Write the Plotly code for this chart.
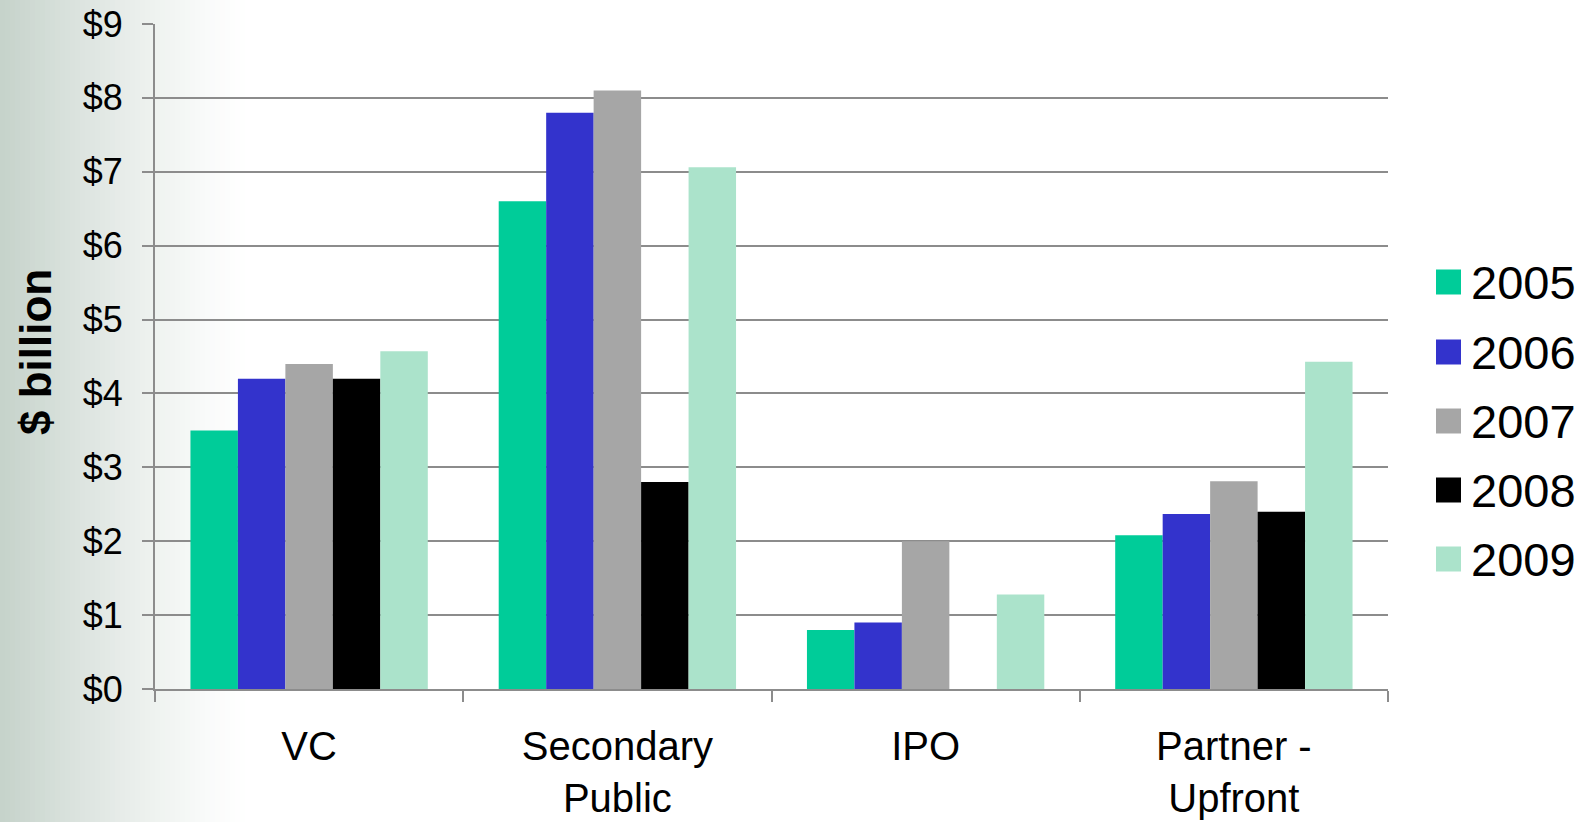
import plotly.graph_objects as go

categories = ["VC", "Secondary<br>Public", "IPO", "Partner -<br>Upfront"]
years = ["2005", "2006", "2007", "2008", "2009"]
v2005 = [3.50, 6.60, 0.80, 2.08]
v2006 = [4.20, 7.80, 0.90, 2.37]
v2007 = [4.40, 8.10, 2.00, 2.81]
v2008 = [4.20, 2.80, 0.00, 2.40]
v2009 = [4.57, 7.06, 1.28, 4.43]
series = [v2005, v2006, v2007, v2008, v2009]
colors = ["#00CC99", "#3333CC", "#A6A6A6", "#000000", "#ABE3CB"]
ytickvals = [0, 1, 2, 3, 4, 5, 6, 7, 8, 9]
yticktext = ["$" + str(v) for v in ytickvals]

FONT = "Liberation Sans, Arial, sans-serif"
W, H = 1589, 822
L, R, T, B = 155, 201, 24, 133
pw = W - L - R
ph = H - T - B

fig = go.Figure()
for yr, vals, c in zip(years, series, colors):
    fig.add_trace(go.Bar(x=categories, y=vals, name=yr, marker=dict(color=c, line=dict(width=0)),
                         showlegend=False))

shapes = []
# left background gradient
n = 50
for i in range(n):
    x0 = i * 5
    t = (x0 + 2.5) / 250
    k = max(0.0, 1 - t) ** 1.3
    r = round(255 - 58 * k); g = round(255 - 45 * k); b = round(255 - 53 * k)
    shapes.append(dict(type="rect", xref="paper", yref="paper", layer="below",
                       x0=(x0 - L) / pw, x1=(x0 + 5.5 - L) / pw,
                       y0=-0.4, y1=1.2,
                       fillcolor=f"rgb({r},{g},{b})", line=dict(width=0)))

annotations = []
# legend (manual, large squares)
leg_y = [282, 352, 421, 490, 559]
for yr, c, yp in zip(years, colors, leg_y):
    yc = (T + ph - yp) / ph
    shapes.append(dict(type="rect", xref="paper", yref="paper",
                       x0=(1436 - L) / pw, x1=(1461 - L) / pw,
                       y0=yc - 12.5 / ph, y1=yc + 12.5 / ph,
                       fillcolor=c, line=dict(width=0)))
    annotations.append(dict(text=yr, xref="paper", yref="paper", x=(1469 - L) / pw, y=yc - 0.5 / ph,
                            xanchor="left", yanchor="middle", showarrow=False,
                            font=dict(family=FONT, size=47, color="black")))

annotations.append(dict(text="<b>$ billion</b>", xref="paper", yref="paper",
                        x=(35 - L) / pw, y=(T + ph - 352) / ph, textangle=-90,
                        xanchor="center", yanchor="middle", showarrow=False,
                        font=dict(family=FONT, size=44, color="black")))

fig.update_layout(
    width=W, height=H,
    margin=dict(l=L, r=R, t=T, b=B, pad=0, autoexpand=False),
    paper_bgcolor="white", plot_bgcolor="rgba(0,0,0,0)",
    barmode="group", bargap=0.23, bargroupgap=0,
    shapes=shapes, annotations=annotations,
    showlegend=False,
    xaxis=dict(showgrid=False, showline=True, linecolor="#8C8C8C", linewidth=2, automargin=False,
               ticks="outside", tickson="boundaries", ticklen=11, tickwidth=2, tickcolor="#8C8C8C",
               tickfont=dict(family=FONT, size=40, color="black"), ticklabelstandoff=21),
    yaxis=dict(range=[0, 9], tickmode="array", tickvals=ytickvals, ticktext=yticktext,
               showgrid=True, gridcolor="#8C8C8C", gridwidth=2, automargin=False,
               showline=True, linecolor="#8C8C8C", linewidth=2, zeroline=False,
               ticks="outside", ticklen=11, tickwidth=2, tickcolor="#8C8C8C",
               tickfont=dict(family=FONT, size=36, color="black"), ticklabelstandoff=12),
)

fig.write_html("out.html")
